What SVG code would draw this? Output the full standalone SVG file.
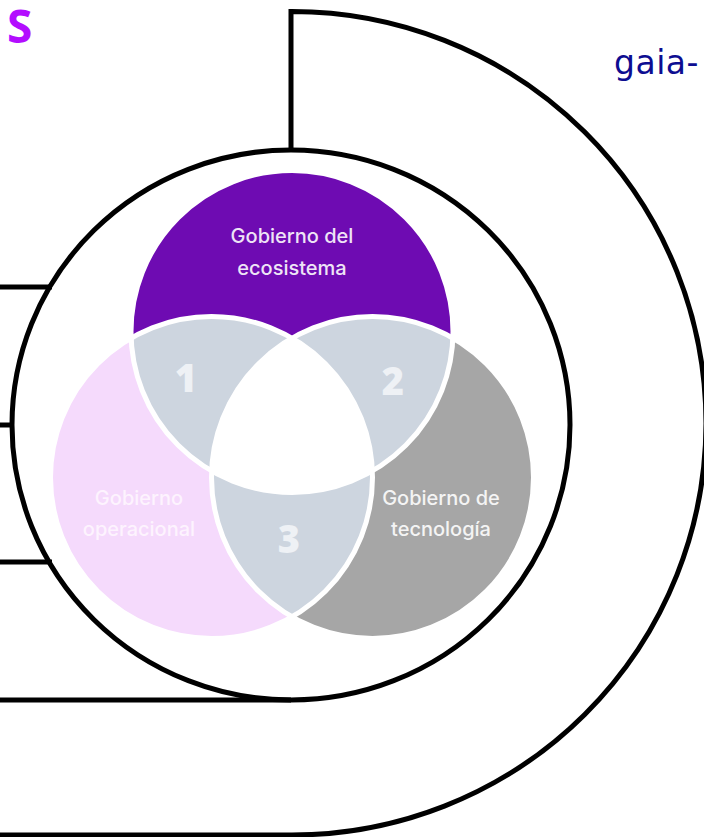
<svg xmlns="http://www.w3.org/2000/svg" width="704" height="837" viewBox="0 0 704 837">
  <style>
    .line { fill: none; stroke: #000; stroke-width: 5; }
    .sep { fill: none; stroke: #fff; stroke-width: 5; }
    .lbl { font-family: Inter, "Liberation Sans", sans-serif; font-size: 20px; font-weight: 500; text-anchor: middle; }
    .num { font-family: "Open Sans", "Liberation Sans", sans-serif; font-size: 38px; font-weight: 800; fill: #EEF1F5; text-anchor: middle; }
    .inter { fill: #CDD5DF; }
  </style>
  <defs>
    <circle id="cTop" cx="292" cy="331.5" r="161"/>
    <circle id="cLeft" cx="211.5" cy="477.5" r="161"/>
    <circle id="cRight" cx="372.5" cy="477.5" r="161"/>
    <clipPath id="clipTop"><use href="#cTop"/></clipPath>
    <clipPath id="clipLeft"><use href="#cLeft"/></clipPath>
  </defs>
  <rect width="704" height="837" fill="#fff"/>

  <g id="title">
    <text x="7" y="43" font-family="'Open Sans', 'Liberation Sans', sans-serif" font-size="46" font-weight="700" fill="#B30DFF">S</text>
    <text x="614" y="74" font-family="'DejaVu Sans', sans-serif" font-size="33" letter-spacing="0.5" fill="#0D0D91">gaia-</text>
  </g>

  <g id="connectors">
    <path class="line" d="M291,150 L291,11.5 L292,11.5 A414,411.75 0 0 1 292,835 L0,835"/>
    <line class="line" x1="0" y1="287" x2="52" y2="287"/>
    <line class="line" x1="0" y1="425" x2="14" y2="425"/>
    <line class="line" x1="0" y1="562" x2="52" y2="562"/>
    <line class="line" x1="0" y1="700" x2="291" y2="700"/>
  </g>

  <g id="outer-circle">
    <ellipse class="line" cx="291" cy="425" rx="279" ry="275"/>
  </g>

  <g id="venn">
    <g id="gobierno-ecosistema">
      <use href="#cTop" fill="#6E0BB2"/>
    </g>
    <g id="gobierno-operacional">
      <use href="#cLeft" fill="#F5DAFC"/>
    </g>
    <g id="gobierno-tecnologia">
      <use href="#cRight" fill="#A6A6A6"/>
    </g>
    <g id="region-1" clip-path="url(#clipTop)">
      <use href="#cLeft" class="inter"/>
    </g>
    <g id="region-2" clip-path="url(#clipTop)">
      <use href="#cRight" class="inter"/>
    </g>
    <g id="region-3" clip-path="url(#clipLeft)">
      <use href="#cRight" class="inter"/>
    </g>
    <g id="center" clip-path="url(#clipTop)">
      <g clip-path="url(#clipLeft)">
        <use href="#cRight" fill="#fff"/>
      </g>
    </g>
    <g id="separators">
      <use href="#cTop" class="sep"/>
      <use href="#cLeft" class="sep"/>
      <use href="#cRight" class="sep"/>
    </g>
  </g>

  <g id="labels">
    <text class="lbl" x="292" y="243" fill="#EEE4F6">Gobierno del</text>
    <text class="lbl" x="292" y="275" fill="#EEE4F6">ecosistema</text>
    <text class="lbl" x="139" y="505" fill="#FDF3FE">Gobierno</text>
    <text class="lbl" x="139" y="536" fill="#FDF3FE">operacional</text>
    <text class="lbl" x="441" y="505" fill="#F4F4F4">Gobierno de</text>
    <text class="lbl" x="441" y="536" fill="#F4F4F4">tecnología</text>
    <text class="num" x="186" y="392">1</text>
    <text class="num" x="393" y="395">2</text>
    <text class="num" x="289" y="553">3</text>
  </g>
</svg>
